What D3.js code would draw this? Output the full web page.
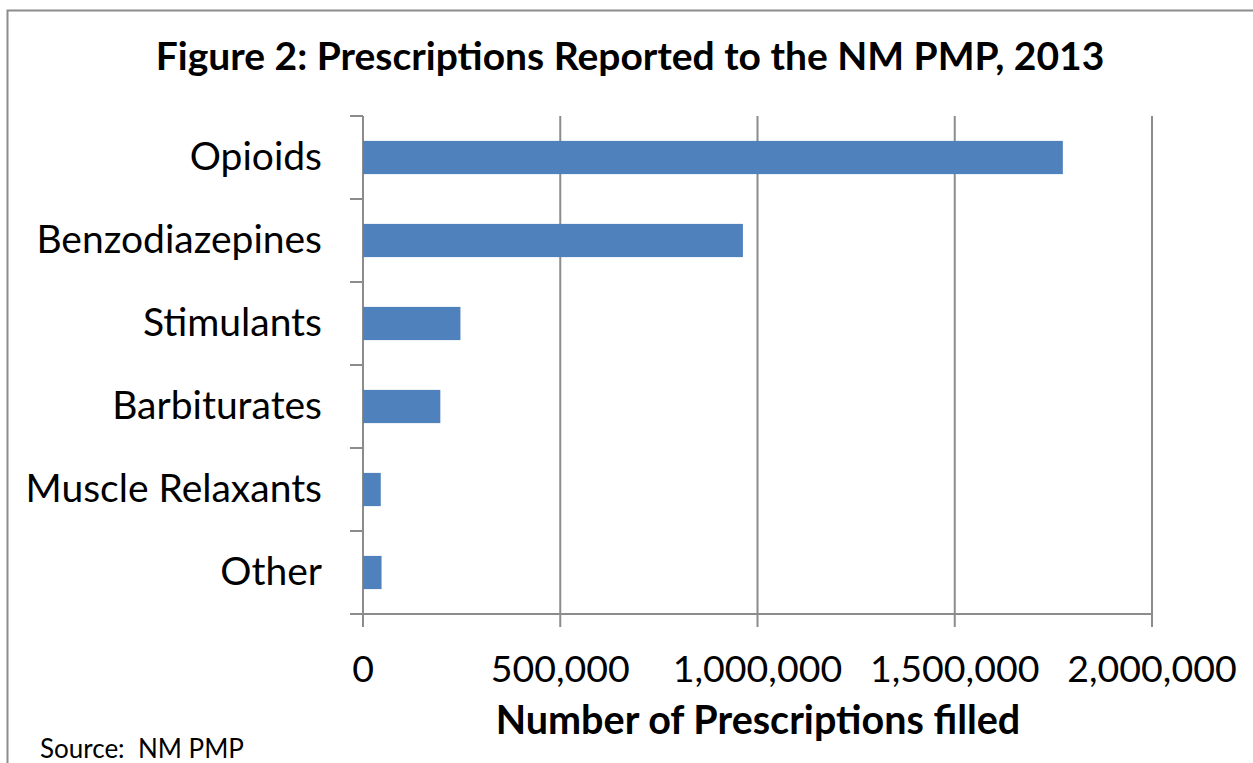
<!DOCTYPE html>
<html>
<head>
<meta charset="utf-8">
<script src="https://cdn.jsdelivr.net/npm/d3@7"></script>
<style>
  body { margin: 0; background: #fff; }
  svg text { font-family: Lato, "Open Sans", sans-serif; fill: #000; }
</style>
</head>
<body>
<div id="chart"></div>
<script>
var svgWidth = 1253;
var svgHeight = 763;

// data
var categories = ["Opioids", "Benzodiazepines", "Stimulants", "Barbiturates", "Muscle Relaxants", "Other"];
var prescriptions = [1774000, 963000, 247000, 196000, 45000, 47000];
var xTicks = [0, 500000, 1000000, 1500000, 2000000];

var margin = { top: 116, right: 101, bottom: 149, left: 363 };
var width = svgWidth - margin.left - margin.right;
var height = svgHeight - margin.top - margin.bottom;

var svg = d3.select("#chart")
  .append("svg")
  .attr("width", svgWidth)
  .attr("height", svgHeight);

// outer frame of the figure
svg.append("rect")
  .attr("x", 7.5)
  .attr("y", 10.5)
  .attr("width", svgWidth)
  .attr("height", svgHeight)
  .attr("fill", "none")
  .attr("stroke", "#8c8c8c")
  .attr("stroke-width", 2);

svg.append("text")
  .attr("x", 630)
  .attr("y", 70)
  .attr("text-anchor", "middle")
  .attr("font-size", 39)
  .attr("font-weight", "bold")
  .text("Figure 2: Prescriptions Reported to the NM PMP, 2013");

var chartGroup = svg.append("g")
  .attr("transform", `translate(${margin.left}, ${margin.top})`);

var xScale = d3.scaleLinear()
  .domain([0, 2000000])
  .range([0, width]);

var yScale = d3.scaleBand()
  .domain(categories)
  .range([0, height])
  .paddingInner(0.6)
  .paddingOuter(0.3);

// gridlines, running down past the axis as ticks
chartGroup.selectAll(".grid")
  .data(xTicks)
  .enter()
  .append("line")
  .attr("x1", d => xScale(d))
  .attr("x2", d => xScale(d))
  .attr("y1", 0)
  .attr("y2", height + 13)
  .attr("stroke", "#8c8c8c")
  .attr("stroke-width", 2);

chartGroup.selectAll(".bar")
  .data(categories)
  .enter()
  .append("rect")
  .attr("x", 0)
  .attr("y", d => yScale(d))
  .attr("width", (d, i) => xScale(prescriptions[i]))
  .attr("height", yScale.bandwidth())
  .attr("fill", "#4f81bd");

// x axis line
chartGroup.append("line")
  .attr("x1", -13)
  .attr("x2", width)
  .attr("y1", height)
  .attr("y2", height)
  .attr("stroke", "#8c8c8c")
  .attr("stroke-width", 2);

// category boundary ticks on the left axis
var step = yScale.step();
chartGroup.selectAll(".ytick")
  .data(d3.range(categories.length))
  .enter()
  .append("line")
  .attr("x1", -13)
  .attr("x2", 0)
  .attr("y1", i => i * step)
  .attr("y2", i => i * step)
  .attr("stroke", "#8c8c8c")
  .attr("stroke-width", 2);

chartGroup.selectAll(".ylabel")
  .data(categories)
  .enter()
  .append("text")
  .attr("x", -41)
  .attr("y", d => yScale(d) + yScale.bandwidth() / 2 + 12)
  .attr("text-anchor", "end")
  .attr("font-size", 39)
  .text(d => d);

chartGroup.selectAll(".xlabel")
  .data(xTicks)
  .enter()
  .append("text")
  .attr("x", d => xScale(d))
  .attr("y", height + 68)
  .attr("text-anchor", "middle")
  .attr("font-size", 37.5)
  .text(d => d3.format(",")(d));

chartGroup.append("text")
  .attr("x", 758 - margin.left)
  .attr("y", height + 120)
  .attr("text-anchor", "middle")
  .attr("font-size", 39.5)
  .attr("font-weight", "bold")
  .text("Number of Prescriptions filled");

svg.append("text")
  .attr("x", 40)
  .attr("y", 758)
  .attr("font-size", 26)
  .text("Source:  NM PMP")
  .style("white-space", "pre");
</script>
</body>
</html>
